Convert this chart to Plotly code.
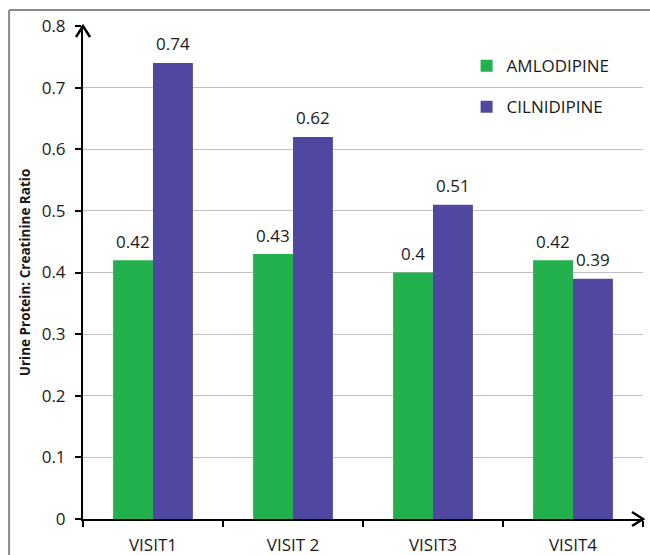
import plotly.graph_objects as go

categories = ["VISIT1", "VISIT 2", "VISIT3", "VISIT4"]
amlodipine = [0.42, 0.43, 0.40, 0.42]
cilnidipine = [0.74, 0.62, 0.51, 0.39]
series_names = ["AMLODIPINE", "CILNIDIPINE"]
y_ticks = [0, 0.1, 0.2, 0.3, 0.4, 0.5, 0.6, 0.7, 0.8]
y_tick_labels = ["0", "0.1", "0.2", "0.3", "0.4", "0.5", "0.6", "0.7", "0.8"]

GREEN = "#22b14c"
PURPLE = "#5048a0"
FONT = "Open Sans"
TXT = "#1a1a1a"

fig = go.Figure()
fig.add_trace(go.Bar(x=categories, y=amlodipine, name=series_names[0],
                     marker=dict(color=GREEN, line=dict(width=0)),
                     legendgroup="a"))
fig.add_trace(go.Bar(x=categories, y=cilnidipine, name=series_names[1],
                     marker=dict(color=PURPLE, line=dict(width=0)),
                     legendgroup="b"))

# data labels
for vals, shift in ((amlodipine, -20), (cilnidipine, 20)):
    for c, v in zip(categories, vals):
        fig.add_annotation(x=c, y=v, text=str(v), showarrow=False,
                           xshift=shift, yshift=19, yanchor="middle",
                           font=dict(family=FONT, size=17, color=TXT))

fig.update_layout(
    width=650, height=555,
    margin=dict(l=83, r=7, t=26, b=36, autoexpand=False),
    paper_bgcolor="white", plot_bgcolor="white",
    barmode="group", bargap=0.43, bargroupgap=0,
    font=dict(family=FONT, size=17, color=TXT),
    showlegend=True,
    legend=dict(x=0.685, y=0.955, xanchor="left", yanchor="top",
                traceorder="grouped", tracegroupgap=16,
                bgcolor="rgba(0,0,0,0)", itemwidth=30,
                font=dict(family=FONT, size=17, color=TXT)),
    xaxis=dict(type="category", showline=True, linecolor="black", linewidth=2,
               ticks="outside", tickson="boundaries", ticklen=6, tickwidth=2,
               tickcolor="black", showgrid=False, zeroline=False,
               ticklabelstandoff=10, automargin=False,
               tickfont=dict(family=FONT, size=17, color=TXT)),
    yaxis=dict(range=[0, 0.8], tickvals=y_ticks, ticktext=y_tick_labels,
               showline=True, linecolor="black", linewidth=2,
               ticks="outside", ticklen=6, tickwidth=2, tickcolor="black",
               showgrid=True, gridcolor="#c0c0c0", gridwidth=1,
               zeroline=False, ticklabelstandoff=6, automargin=False,
               tickfont=dict(family=FONT, size=17, color=TXT),
               title=dict(text="<b>Urine Protein: Creatinine Ratio</b>",
                          font=dict(family=FONT, size=13.5, color=TXT),
                          standoff=8)),
)

# axis arrowheads
fig.add_shape(type="path", xref="paper", yref="paper",
              xsizemode="pixel", ysizemode="pixel", xanchor=0, yanchor=1,
              path="M -7 -11 L 0 0 L 7 -11",
              line=dict(color="black", width=2.5))
fig.add_shape(type="path", xref="paper", yref="paper",
              xsizemode="pixel", ysizemode="pixel", xanchor=1, yanchor=0,
              path="M -11 7 L 0 0 L -11 -7",
              line=dict(color="black", width=2.5))

# outer frame (cropped at right and bottom)
fig.add_shape(type="line", xref="paper", yref="paper",
              x0=-0.132, x1=1.2, y0=1.0325, y1=1.0325,
              line=dict(color="#8a8a8a", width=2))
fig.add_shape(type="line", xref="paper", yref="paper",
              x0=-0.132, x1=-0.132, y0=-0.2, y1=1.0325,
              line=dict(color="#8a8a8a", width=2))

fig.write_html(
    "out.html",
    config={"displayModeBar": False},
    post_script="document.body.style.margin='0';document.body.style.overflow='hidden';",
)
